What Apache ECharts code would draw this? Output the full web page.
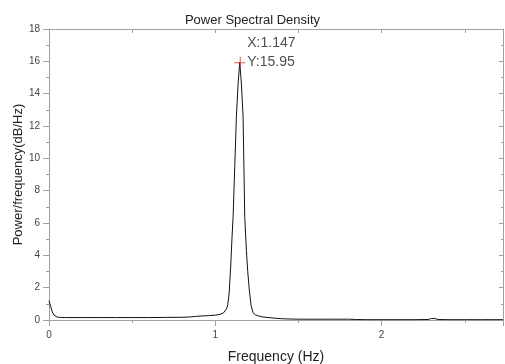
<!DOCTYPE html>
<html>
<head>
<meta charset="utf-8">
<script src="https://cdn.jsdelivr.net/npm/echarts@6/dist/echarts.min.js"></script>
<style>
html,body{margin:0;padding:0;background:#fff;}
#chart{width:505px;height:364px;}
</style>
</head>
<body>
<div id="chart"></div>
<script>
// Data
const freq = [0, 0.01, 0.02, 0.03, 0.04, 0.05, 0.07, 0.1, 0.2, 0.3, 0.4, 0.5, 0.6, 0.7, 0.8, 0.85, 0.88, 0.92, 0.96, 1.0, 1.03, 1.05, 1.06, 1.067, 1.075, 1.083, 1.093, 1.1, 1.107, 1.117, 1.127, 1.137, 1.147, 1.157, 1.167, 1.177, 1.187, 1.195, 1.205, 1.215, 1.227, 1.24, 1.26, 1.28, 1.3, 1.33, 1.36, 1.4, 1.45, 1.5, 1.6, 1.7, 1.8, 1.85, 1.9, 2.0, 2.1, 2.2, 2.28, 2.3, 2.32, 2.34, 2.4, 2.5, 2.6, 2.73];
const psd = [1.2, 0.85, 0.5, 0.3, 0.22, 0.18, 0.16, 0.15, 0.15, 0.15, 0.15, 0.15, 0.15, 0.16, 0.17, 0.19, 0.22, 0.25, 0.27, 0.3, 0.35, 0.45, 0.55, 0.68, 0.95, 1.6, 3.4, 5.0, 6.4, 9.5, 12.6, 14.6, 15.95, 14.6, 12.6, 6.4, 4.3, 3.0, 1.8, 0.9, 0.45, 0.32, 0.25, 0.2, 0.17, 0.14, 0.11, 0.08, 0.06, 0.05, 0.05, 0.05, 0.05, 0.03, 0.02, 0.02, 0.02, 0.02, 0.03, 0.09, 0.09, 0.03, 0.02, 0.02, 0.02, 0.02];
const peakX = 1.147;
const peakY = 15.95;
const titleText = 'Power Spectral Density';
const xName = 'Frequency (Hz)';
const yName = 'Power/frequency(dB/Hz)';

const axisGray = '#a0a0a0';
const font = 'Liberation Sans, Arial, sans-serif';

const chart = echarts.init(document.getElementById('chart'));
chart.setOption({
  backgroundColor: '#fff',
  animation: false,
  title: {
    text: titleText, left: 'center', top: 9,
    textStyle: {fontFamily: font, fontSize: 13, fontWeight: 'normal', color: '#222'}
  },
  grid: {left: 49, right: 2, top: 29, bottom: 44, containLabel: false, outerBoundsMode: 'none'},
  xAxis: [{
    type: 'value', min: 0, max: 2.73, interval: 1,
    name: xName, nameLocation: 'middle', nameGap: 30, nameMoveOverlap: false,
    nameTextStyle: {fontFamily: font, fontSize: 14, color: '#222'},
    axisLine: {show: true, onZero: false, lineStyle: {color: axisGray, width: 1}},
    axisTick: {show: true, inside: false, length: 6, lineStyle: {color: axisGray}},
    minorTick: {show: true, splitNumber: 2, length: 3, lineStyle: {color: axisGray}},
    axisLabel: {fontFamily: font, fontSize: 10, color: '#444', margin: 10, showMaxLabel: false},
    splitLine: {show: false}
  }, {
    type: 'value', position: 'top', min: 0, max: 2.73, interval: 1,
    axisLine: {show: true, onZero: false, lineStyle: {color: axisGray, width: 1}},
    axisTick: {show: true, inside: true, length: 4, lineStyle: {color: axisGray}},
    minorTick: {show: true, splitNumber: 2, length: 4, lineStyle: {color: axisGray}},
    axisLabel: {show: false}, splitLine: {show: false}
  }],
  yAxis: [{
    type: 'value', min: 0, max: 18, interval: 2,
    name: yName, nameLocation: 'middle', nameGap: 24, nameMoveOverlap: false,
    nameTextStyle: {fontFamily: font, fontSize: 13, color: '#222'},
    axisLine: {show: true, onZero: false, lineStyle: {color: axisGray, width: 1}},
    axisTick: {show: true, inside: false, length: 6, lineStyle: {color: axisGray}},
    minorTick: {show: true, splitNumber: 2, length: 3, lineStyle: {color: axisGray}},
    axisLabel: {fontFamily: font, fontSize: 10, color: '#444', margin: 9},
    splitLine: {show: false}
  }, {
    type: 'value', position: 'right', min: 0, max: 18, interval: 2,
    axisLine: {show: true, onZero: false, lineStyle: {color: axisGray, width: 1}},
    axisTick: {show: true, inside: true, length: 4, lineStyle: {color: axisGray}},
    minorTick: {show: true, splitNumber: 2, length: 2, lineStyle: {color: axisGray}},
    axisLabel: {show: false}, splitLine: {show: false}
  }],
  series: [{
    type: 'line',
    data: freq.map((f, i) => [f, psd[i]]),
    showSymbol: false, symbol: 'none',
    lineStyle: {color: '#111', width: 1},
    z: 2
  }, {
    type: 'scatter',
    data: [[peakX, peakY]],
    symbol: 'path://M0,5.5H11V6.5H0Z M5.5,0H6.5V11H5.5Z',
    symbolSize: 11,
    itemStyle: {color: '#e03030'},
    label: {
      show: true, position: 'right', distance: 2, offset: [0, -10],
      formatter: 'X:' + peakX + '\nY:' + peakY,
      fontFamily: font, fontSize: 14, color: '#222', lineHeight: 19
    },
    z: 3
  }]
});
</script>
</body>
</html>
